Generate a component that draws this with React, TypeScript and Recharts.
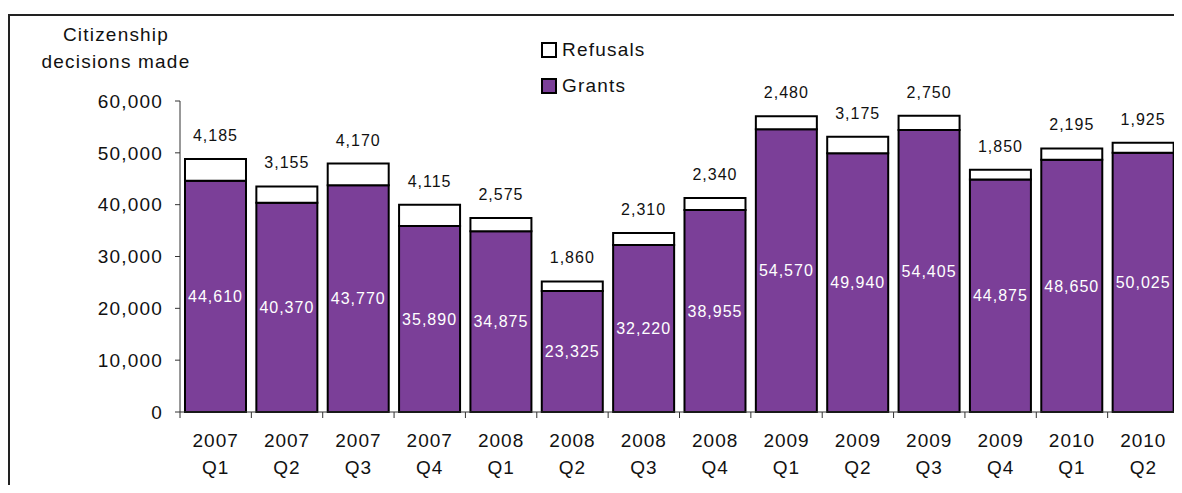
import { BarChart, Bar, XAxis, YAxis, LabelList } from "recharts";

const years = ["2007", "2007", "2007", "2007", "2008", "2008", "2008", "2008", "2009", "2009", "2009", "2009", "2010", "2010"];
const quarters = ["Q1", "Q2", "Q3", "Q4", "Q1", "Q2", "Q3", "Q4", "Q1", "Q2", "Q3", "Q4", "Q1", "Q2"];
const grants = [44610, 40370, 43770, 35890, 34875, 23325, 32220, 38955, 54570, 49940, 54405, 44875, 48650, 50025];
const refusals = [4185, 3155, 4170, 4115, 2575, 1860, 2310, 2340, 2480, 3175, 2750, 1850, 2195, 1925];
const yTicks = [0, 10000, 20000, 30000, 40000, 50000, 60000];

const data = years.map((y, i) => ({
  period: `${y} ${quarters[i]}`,
  year: y,
  quarter: quarters[i],
  grants: grants[i],
  refusals: refusals[i],
}));

const PURPLE = "#7b3f98";
const FONT = "'Liberation Sans', Arial, sans-serif";
const CHART_W = 1174;
const CHART_H = 477;
const MARGIN = { top: 93, right: 3, bottom: 0, left: 92 };
const Y_W = 80;
const BAND = (CHART_W - MARGIN.left - Y_W - MARGIN.right) / data.length;

const fmt = (v: number) => v.toLocaleString("en-US");

function XTick(props: any) {
  const { x, y, payload, index } = props;
  const row = data[index] || data.find((d) => d.period === payload.value);
  const isLast = index === data.length - 1;
  return (
    <g>
      <line x1={x - BAND / 2} x2={x - BAND / 2} y1={y - 8} y2={y - 2} stroke="#333" strokeWidth={1} />
      {isLast && <line x1={x + BAND / 2} x2={x + BAND / 2} y1={y - 8} y2={y - 2} stroke="#333" strokeWidth={1} />}
      <text x={x} y={y} textAnchor="middle" fontFamily={FONT} fontSize={19} letterSpacing={1} fill="#111">
        <tspan x={x} dy={27}>{row ? row.year : ""}</tspan>
        <tspan x={x} dy={27}>{row ? row.quarter : ""}</tspan>
      </text>
    </g>
  );
}

function LegendBox() {
  const items = [
    { label: "Refusals", fill: "#ffffff" },
    { label: "Grants", fill: PURPLE },
  ];
  return (
    <div style={{ fontFamily: FONT, fontSize: 19, letterSpacing: 1.2, color: "#111" }}>
      {items.map((it) => (
        <div key={it.label} style={{ display: "flex", alignItems: "center", height: 36 }}>
          <span
            style={{
              display: "inline-block",
              width: 12,
              height: 12,
              background: it.fill,
              border: "2px solid #000",
              marginRight: 5,
            }}
          />
          {it.label}
        </div>
      ))}
    </div>
  );
}

export default function App() {
  return (
    <div style={{ position: "relative", width: CHART_W, height: CHART_H, overflow: "visible" }}>
      <div
        style={{
          position: "absolute",
          top: 6,
          left: 0,
          width: CHART_W + 20,
          height: CHART_H + 20,
          borderTop: "2px solid #222",
          borderLeft: "2px solid #222",
          boxSizing: "border-box",
        }}
      />
      <div
        style={{
          position: "absolute",
          top: 13,
          left: 28,
          width: 160,
          textAlign: "center",
          fontFamily: FONT,
          fontSize: 19,
          letterSpacing: 1.2,
          lineHeight: "27px",
          color: "#111",
        }}
      >
        Citizenship
        <br />
        decisions made
      </div>
      <BarChart
        width={CHART_W}
        height={CHART_H}
        data={data}
        margin={MARGIN}
        barCategoryGap="7%"
        style={{ position: "absolute", top: 0, left: 0 }}
      >
        <XAxis
          dataKey="period"
          height={CHART_H - MARGIN.top - 311}
          tick={<XTick />}
          tickLine={false}
          axisLine={{ stroke: "#333", strokeWidth: 1 }}
          interval={0}
        />
        <YAxis
          width={Y_W}
          domain={[0, 60000]}
          ticks={yTicks}
          tickFormatter={fmt}
          tickSize={5}
          tickMargin={12}
          axisLine={{ stroke: "#333", strokeWidth: 1 }}
          tickLine={{ stroke: "#333" }}
          tick={{ fontFamily: FONT, fontSize: 19, fill: "#111", letterSpacing: 1.2 }}
        />
        <Bar dataKey="grants" stackId="a" fill={PURPLE} stroke="#000" strokeWidth={2} isAnimationActive={false}>
          <LabelList
            dataKey="grants"
            position="center"
            formatter={(v: any) => fmt(Number(v))}
            fill="#fff"
            style={{ fontFamily: FONT, fontSize: 16, letterSpacing: 1 }}
          />
        </Bar>
        <Bar dataKey="refusals" stackId="a" fill="#fff" stroke="#000" strokeWidth={2} isAnimationActive={false}>
          <LabelList
            dataKey="refusals"
            position="top"
            offset={18}
            formatter={(v: any) => fmt(Number(v))}
            fill="#111"
            style={{ fontFamily: FONT, fontSize: 16, letterSpacing: 1 }}
          />
        </Bar>
      </BarChart>
      <div style={{ position: "absolute", top: 24, left: 533 }}>
        <LegendBox />
      </div>
    </div>
  );
}
